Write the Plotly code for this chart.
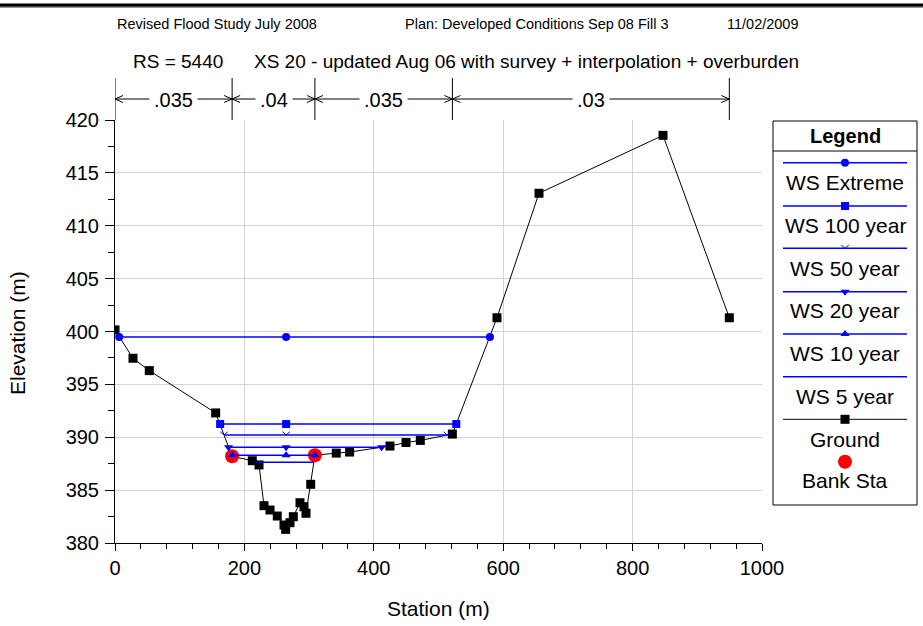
import plotly.graph_objects as go

W, H = 923, 626

# ---------------- data ----------------
ground_sta = [0, 27.8, 53, 155.6, 181, 212.2, 222.6, 230.3, 239.6, 250.8, 261.2, 263.8,
              270.5, 275.6, 285.9, 292.1, 295.2, 302.5, 309, 342, 362.6, 425, 449.8,
              471.9, 521.4, 590.4, 655.3, 847, 949.5]
ground_elev = [400.15, 397.47, 396.3, 392.3, 388.2, 387.78, 387.38, 383.53, 383.12, 382.55,
               381.7, 381.29, 381.92, 382.49, 383.81, 383.43, 382.81, 385.55, 388.3, 388.5,
               388.6, 389.17, 389.5, 389.7, 390.3, 401.3, 413.07, 418.55, 401.3]

bank_sta = [181.0, 309.0]
bank_elev = [388.2, 388.3]

ws_names = ["WS Extreme", "WS 100 year", "WS 50 year", "WS 20 year", "WS 10 year", "WS 5 year"]
ws_elev = [399.48, 391.25, 390.22, 389.05, 388.3, 387.63]
ws_left = [6.5, 162.5, 168.5, 175.5, 181.0, 216.0]
ws_right = [579.5, 527.5, 513.5, 412.0, 309.0, 307.5]
ws_center = 264.5
ws_symbols = ["circle", "square", "chevron", "triangle-down", "triangle-up", None]

n_values = [".035", ".04", ".035", ".03"]
n_breaks = [0, 181, 309, 521.5, 949.5]

x_range = [0, 1000]
y_range = [380, 420]
x_ticks = [0, 200, 400, 600, 800, 1000]
y_ticks = [380, 385, 390, 395, 400, 405, 410, 415, 420]

header_left = "Revised Flood Study July 2008"
header_mid = "Plan: Developed Conditions Sep 08 Fill 3"
header_right = "11/02/2009"
rs_label = "RS = 5440"
xs_label = "XS 20 - updated Aug 06 with survey + interpolation + overburden"

# ---------------- layout geometry (pixels) ----------------
PL, PR, PT, PB = 115, 762, 120, 543
LGL, LGR, LGT, LGB = 773, 917, 121, 505
BLUE = "#0000FF"
FONT = "Arial, Liberation Sans, sans-serif"


def fx(px):
    return px / W


def fy(py):
    return 1 - py / H


kx = (PR - PL) / (x_range[1] - x_range[0])
ky = (PB - PT) / (y_range[1] - y_range[0])

fig = go.Figure()

# ground
fig.add_trace(go.Scatter(x=ground_sta, y=ground_elev, mode="lines+markers",
                         line=dict(color="black", width=1),
                         marker=dict(symbol="square", size=9, color="black", line=dict(width=0)),
                         showlegend=False, hoverinfo="skip"))
# bank stations
fig.add_trace(go.Scatter(x=bank_sta, y=bank_elev, mode="markers",
                         marker=dict(symbol="circle", size=14, color="#FF0000", line=dict(width=0)),
                         showlegend=False, hoverinfo="skip"))


def chevron_xy(xc, yc, hw, hh, sign):
    xs, ys = [], []
    for x0, y0 in zip(xc, yc):
        xs += [x0 - hw, x0, x0 + hw, None]
        ys += [y0 + sign * hh, y0, y0 + sign * hh, None]
    return xs, ys


# water surfaces
for name, e, l, r, sym in zip(ws_names, ws_elev, ws_left, ws_right, ws_symbols):
    if sym is None:
        fig.add_trace(go.Scatter(x=[l, r], y=[e, e], mode="lines",
                                 line=dict(color=BLUE, width=1.5), showlegend=False,
                                 hoverinfo="skip"))
    elif sym == "chevron":
        fig.add_trace(go.Scatter(x=[l, ws_center, r], y=[e, e, e], mode="lines",
                                 line=dict(color=BLUE, width=1.5), showlegend=False,
                                 hoverinfo="skip"))
        cx, cy = chevron_xy([l, ws_center, r], [e, e, e], 3.8 / kx, 3.2 / ky, 1)
        fig.add_trace(go.Scatter(x=cx, y=cy, mode="lines", line=dict(color=BLUE, width=1),
                                 showlegend=False, hoverinfo="skip"))
    else:
        fig.add_trace(go.Scatter(x=[l, ws_center, r], y=[e, e, e], mode="lines+markers",
                                 line=dict(color=BLUE, width=1.5),
                                 marker=dict(symbol=sym, size=8, color=BLUE, line=dict(width=0)),
                                 showlegend=False, hoverinfo="skip"))

# ---------------- custom legend (on a pixel-based helper axis) ----------------
leg_line_y = [162.7, 206, 248.3, 291.7, 334, 376.7, 419.3]
leg_text_y = [182.7, 225.7, 268.3, 310.7, 353.7, 396, 439.3, 480.7]
leg_bank_y = 461.7
lx0, lxc, lx1 = 783, 845, 907
leg_names = ws_names + ["Ground", "Bank Sta"]
leg_syms = ws_symbols + ["square"]
leg_colors = [BLUE] * 6 + ["black"]

for ly, sym, col in zip(leg_line_y, leg_syms, leg_colors):
    if sym is None or sym == "chevron":
        fig.add_trace(go.Scatter(x=[lx0, lx1], y=[ly, ly], mode="lines", xaxis="x2", yaxis="y2",
                                 line=dict(color=col, width=1.5 if col == BLUE else 1),
                                 showlegend=False, hoverinfo="skip"))
        if sym == "chevron":
            cx, cy = chevron_xy([lxc], [ly], 3.8, 3.2, -1)
            fig.add_trace(go.Scatter(x=cx, y=cy, mode="lines", xaxis="x2", yaxis="y2",
                                     line=dict(color=col, width=1), showlegend=False,
                                     hoverinfo="skip"))
    else:
        fig.add_trace(go.Scatter(x=[lx0, lx1], y=[ly, ly], mode="lines", xaxis="x2", yaxis="y2",
                                 line=dict(color=col, width=1.5 if col == BLUE else 1),
                                 showlegend=False, hoverinfo="skip"))
        fig.add_trace(go.Scatter(x=[lxc], y=[ly], mode="markers", xaxis="x2", yaxis="y2",
                                 marker=dict(symbol=sym, size=9 if col != BLUE else 8, color=col,
                                             line=dict(width=0)),
                                 showlegend=False, hoverinfo="skip"))
fig.add_trace(go.Scatter(x=[lxc], y=[leg_bank_y], mode="markers", xaxis="x2", yaxis="y2",
                         marker=dict(symbol="circle", size=14, color="#FF0000", line=dict(width=0)),
                         showlegend=False, hoverinfo="skip"))

annotations = []
for name, ty in zip(leg_names, leg_text_y):
    annotations.append(dict(x=lxc, y=ty, xref="x2", yref="y2", text=name, showarrow=False,
                            xanchor="center", yanchor="middle",
                            font=dict(family=FONT, size=21, color="black")))
annotations.append(dict(x=fx((LGL + LGR) / 2), y=fy(136), xref="paper", yref="paper",
                        text="<b>Legend</b>", showarrow=False, xanchor="center", yanchor="middle",
                        font=dict(family=FONT, size=20, color="black")))

shapes = [
    dict(type="rect", xref="paper", yref="paper", x0=fx(LGL), x1=fx(LGR), y0=fy(LGB), y1=fy(LGT),
         line=dict(color="black", width=1), fillcolor="rgba(0,0,0,0)"),
    dict(type="line", xref="paper", yref="paper", x0=fx(LGL), x1=fx(LGR), y0=fy(151), y1=fy(151),
         line=dict(color="black", width=1)),
    # top border
    dict(type="rect", xref="paper", yref="paper", x0=0, x1=1, y0=fy(6.8), y1=fy(3.6),
         fillcolor="black", line=dict(width=0)),
    dict(type="line", xref="paper", yref="paper", x0=0, x1=1, y0=fy(7.5), y1=fy(7.5),
         line=dict(color="#9a9a9a", width=1)),
]

# ---------------- Manning's n bar ----------------
arr_y = 99
for b in n_breaks:
    shapes.append(dict(type="line", xref="x", yref="paper", x0=b, x1=b, y0=fy(PT), y1=fy(78),
                       line=dict(color="black", width=1)))
for i, nv in enumerate(n_values):
    a, b = n_breaks[i], n_breaks[i + 1]
    shapes.append(dict(type="line", xref="x", yref="paper", x0=a, x1=b, y0=fy(arr_y), y1=fy(arr_y),
                       line=dict(color="black", width=1)))
    d = 8 / kx
    shapes.append(dict(type="path", xref="x", yref="paper",
                       path=f"M {a + d} {fy(arr_y - 3.5)} L {a} {fy(arr_y)} L {a + d} {fy(arr_y + 3.5)}",
                       line=dict(color="black", width=1)))
    shapes.append(dict(type="path", xref="x", yref="paper",
                       path=f"M {b - d} {fy(arr_y - 3.5)} L {b} {fy(arr_y)} L {b - d} {fy(arr_y + 3.5)}",
                       line=dict(color="black", width=1)))
    annotations.append(dict(x=(a + b) / 2, y=fy(arr_y + 1), xref="x", yref="paper", text=nv,
                            showarrow=False, xanchor="center", yanchor="middle", bgcolor="white",
                            borderpad=4, font=dict(family=FONT, size=20, color="black")))

# ---------------- header texts ----------------
annotations += [
    dict(x=fx(115), y=fy(24), xref="paper", yref="paper", text=header_left, showarrow=False,
         xanchor="left", yanchor="middle", font=dict(family=FONT, size=14.5, color="black")),
    dict(x=fx(537), y=fy(24), xref="paper", yref="paper", text=header_mid, showarrow=False,
         xanchor="center", yanchor="middle", font=dict(family=FONT, size=14.5, color="black")),
    dict(x=fx(763), y=fy(24), xref="paper", yref="paper", text=header_right, showarrow=False,
         xanchor="center", yanchor="middle", font=dict(family=FONT, size=14.5, color="black")),
    dict(x=fx(131), y=fy(62), xref="paper", yref="paper", text=rs_label, showarrow=False,
         xanchor="left", yanchor="middle", font=dict(family=FONT, size=19, color="black")),
    dict(x=fx(252), y=fy(62), xref="paper", yref="paper", text=xs_label, showarrow=False,
         xanchor="left", yanchor="middle", font=dict(family=FONT, size=19, color="black")),
    # axis titles
    dict(x=fx((PL + PR) / 2), y=fy(608), xref="paper", yref="paper", text="Station (m)",
         showarrow=False, xanchor="center", yanchor="middle",
         font=dict(family=FONT, size=21, color="black")),
    dict(x=fx(17), y=fy(333), xref="paper", yref="paper", text="Elevation (m)", textangle=-90,
         showarrow=False, xanchor="center", yanchor="middle",
         font=dict(family=FONT, size=21, color="black")),
]

axis_common = dict(showline=True, linecolor="black", linewidth=1, mirror=False,
                   ticks="outside", tickcolor="black", tickwidth=1,
                   showgrid=True, gridcolor="#d3d3d3", gridwidth=1, zeroline=False,
                   tickfont=dict(family=FONT, size=20, color="black"), automargin=False)

fig.update_layout(
    width=W, height=H,
    margin=dict(l=0, r=0, t=0, b=0),
    paper_bgcolor="white", plot_bgcolor="white",
    showlegend=False,
    xaxis=dict(domain=[fx(PL), fx(PR)], range=x_range, tickmode="array", tickvals=x_ticks,
               ticklen=7,
               minor=dict(dtick=40, tick0=0, ticks="outside", ticklen=5, tickcolor="black",
                          showgrid=False),
               **axis_common),
    yaxis=dict(domain=[fy(PB), fy(PT)], range=y_range, tickmode="array", tickvals=y_ticks,
               ticklen=9,
               minor=dict(dtick=2.5, tick0=380, ticks="outside", ticklen=6, tickcolor="black",
                          showgrid=False),
               ticklabelstandoff=2, **axis_common),
    xaxis2=dict(domain=[fx(LGL), fx(LGR)], range=[LGL, LGR], visible=False, anchor="y2"),
    yaxis2=dict(domain=[fy(LGB), fy(LGT)], range=[LGB, LGT], visible=False, anchor="x2"),
    shapes=shapes,
    annotations=annotations,
)

fig.write_html("out.html")
